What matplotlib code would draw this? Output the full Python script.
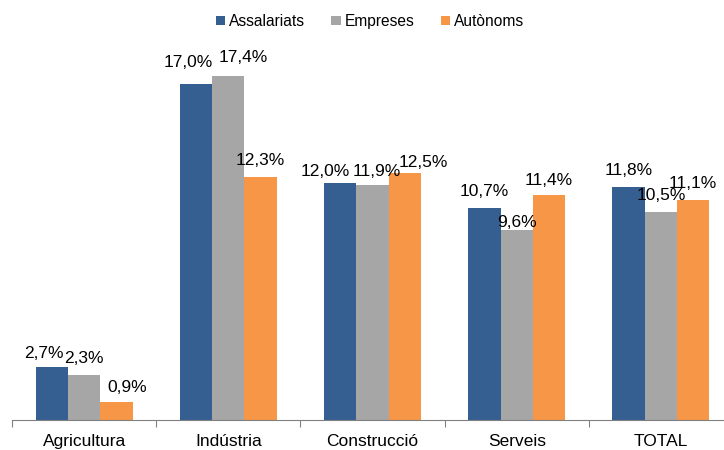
import matplotlib
matplotlib.use("Agg")
import matplotlib.pyplot as plt
import numpy as np

categories = ["Agricultura", "Indústria", "Construcció", "Serveis", "TOTAL"]
series_names = ["Assalariats", "Empreses", "Autònoms"]
assalariats = [2.7, 17.0, 12.0, 10.7, 11.8]
empreses = [2.3, 17.4, 11.9, 9.6, 10.5]
autonoms = [0.9, 12.3, 12.5, 11.4, 11.1]
colors = ["#365F91", "#A6A6A6", "#F79646"]

# label nudges (pixels): horizontal shift and gap above bar top, per series
label_dx = [[-8, -8, -15, 0, 0], [0, 15, 4, 0, 0], [11, 0, 19, 0, 0]]
label_gap = [[9, 17, 7, 12, 12], [12, 14, 9, 3, 12], [10, 12, 6, 10, 12]]

plt.rcParams['font.family'] = ['Liberation Sans', 'DejaVu Sans']

fig = plt.figure(figsize=(7.24, 4.5), dpi=100)
W, H = 724, 450
ax = fig.add_axes([12 / W, 30 / H, 721 / W, 356 / H])

x = np.arange(len(categories))
bw = 0.224
data = [assalariats, empreses, autonoms]
px = 0.72
for i, (vals, name, c) in enumerate(zip(data, series_names, colors)):
    pos = x + (i - 1) * bw
    bars = ax.bar(pos, vals, bw, color=c, label=name, zorder=2)
    for j, (b, v) in enumerate(zip(bars, vals)):
        ax.annotate(f"{v:.1f}%".replace(".", ","),
                    (b.get_x() + b.get_width() / 2, v),
                    xytext=(label_dx[i][j] * px, label_gap[i][j] * px),
                    textcoords="offset points",
                    ha="center", va="baseline", fontsize=12.5, color="#000000",
                    zorder=3)

ax.set_xlim(-0.5, len(categories) - 0.5)
ax.set_ylim(0, 18)
ax.set_yticks([])
for s in ["top", "right", "left"]:
    ax.spines[s].set_visible(False)
ax.spines["bottom"].set_color("#808080")
ax.spines["bottom"].set_linewidth(0.8)
ax.set_xticks(x)
ax.set_xticklabels(categories, fontsize=12.5)
ax.tick_params(axis="x", which="major", length=0, pad=10)
ax.set_xticks(np.arange(-0.5, len(categories) + 0.5, 1), minor=True)
ax.tick_params(axis="x", which="minor", length=5, color="#808080", width=0.8)

fig.legend(loc="upper center", bbox_to_anchor=(0.511, 1.0), ncol=3, frameon=False,
           fontsize=11.2, handlelength=0.6, handleheight=0.6, handletextpad=0.25,
           columnspacing=1.7)

fig.savefig("out.png", dpi=100)
